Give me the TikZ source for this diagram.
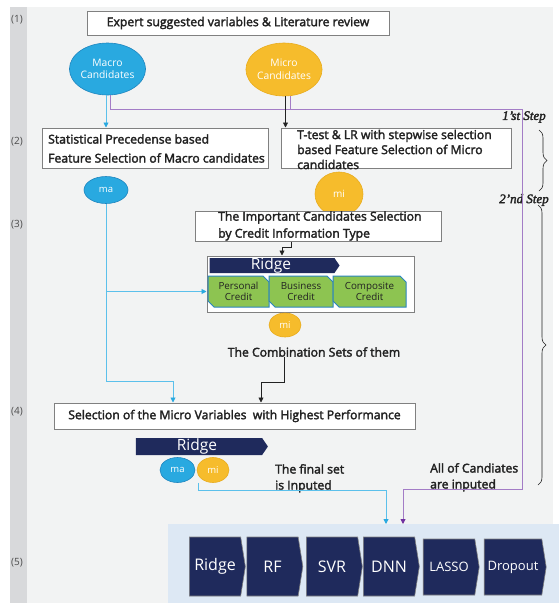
\documentclass[tikz,border=0pt]{standalone}
\usepackage{fontspec}
\setmainfont{Open Sans}
\newfontfamily\bsans{Open Sans}[FakeBold=2.5]
\newfontfamily\stepfont{Liberation Serif}[FakeBold=2.2]
\usetikzlibrary{arrows.meta,shapes.geometric,shapes.symbols,shapes.misc,decorations.pathreplacing,calc}
\definecolor{bggray}{HTML}{F2F3F3}
\definecolor{stripgray}{HTML}{D8D9DB}
\definecolor{panelblue}{HTML}{DDE8F4}
\definecolor{boxborder}{HTML}{808080}
\definecolor{macroblue}{HTML}{29A9E0}
\definecolor{macroborder}{HTML}{1F86BF}
\definecolor{microyellow}{HTML}{F6BC2C}
\definecolor{microborder}{HTML}{E9AC1E}
\definecolor{navy}{HTML}{1F2A5C}
\definecolor{cgreen}{HTML}{8DC451}
\definecolor{cgreenborder}{HTML}{2A84C0}
\definecolor{lblue}{HTML}{5BC0EB}
\definecolor{ablue}{HTML}{29A9E0}
\definecolor{lpurple}{HTML}{A37CC6}
\definecolor{apurple}{HTML}{7030A0}
\definecolor{txt}{HTML}{222222}
\begin{document}
\begin{tikzpicture}[x=1pt,y=-1pt,
  wbox/.style={draw=boxborder,fill=white,line width=1pt,inner sep=0pt},
  btext/.style={font=\bsans\fontsize{12.2}{14}\selectfont,text=txt,inner sep=0pt},
  ell/.style={ellipse,inner sep=0pt,line width=0.6pt,text=white,align=center},
  macroell/.style={ell,fill=macroblue,draw=macroborder},
  microell/.style={ell,fill=microyellow,draw=microborder},
  greenbox/.style={chamfered rectangle,chamfered rectangle corners={north east,south west},
    chamfered rectangle xsep=3pt,chamfered rectangle ysep=3pt,fill=cgreen,draw=cgreenborder,
    line width=1pt,inner sep=0pt,align=center,text=txt,font=\fontsize{9.8}{11.5}\selectfont},
  ridgebar/.style={signal,signal to=east,signal from=nowhere,signal pointer angle=112,
    fill=navy,inner sep=0pt},
  ridgetext/.style={text=white,inner sep=0pt,font=\fontsize{15.5}{16}\selectfont},
  model/.style={signal,signal to=east,signal from=nowhere,signal pointer angle=162,
    fill=navy,draw=boxborder,line width=0.6pt,inner sep=0pt,text=white,
    minimum width=56pt,minimum height=59pt},
  bigm/.style={font=\fontsize{16}{18}\selectfont},
  smallm/.style={font=\fontsize{13}{15}\selectfont},
  bluearr/.style={draw=lblue,line width=0.9pt,-{Triangle[length=5pt,width=5pt,color=ablue]}},
  purplearr/.style={draw=lpurple,line width=0.9pt,-{Triangle[length=5pt,width=5pt,color=apurple]}},
  purpleline/.style={draw=lpurple,line width=0.9pt},
  blackarr/.style={draw=txt,line width=0.8pt,-{Triangle[length=5pt,width=5pt]}},
  steplbl/.style={font=\stepfont\itshape\fontsize{13}{14}\selectfont,text=txt,inner sep=0pt},
  rowlbl/.style={font=\fontsize{10}{12}\selectfont,text=black!70,inner sep=0pt},
  bracestyle/.style={decorate,decoration={brace,amplitude=8pt},draw=txt,line width=0.6pt}
]
\useasboundingbox (0,0) rectangle (559,603);
% backgrounds
\fill[stripgray] (10,7) rectangle (27,603);
\fill[bggray] (27,7) rectangle (553,603);
\node[fill=panelblue,minimum width=391pt,minimum height=79pt,inner sep=0pt,anchor=north west] (panel) at (168,524) {};

% row labels
\node[rowlbl] (r1) at (17,20) {(1)};
\node[rowlbl] (r2) at (17,142) {(2)};
\node[rowlbl] (r3) at (17,225) {(3)};
\node[rowlbl] (r4) at (17,412) {(4)};
\node[rowlbl] (r5) at (17,563) {(5)};

% step (1)
\node[wbox,minimum width=302pt,minimum height=24pt] (b1) at (238,23) {};
\node[btext] (t1) at (238,23) {Expert suggested variables \& Literature review};
\node[macroell,minimum width=70pt,minimum height=52pt,font=\fontsize{10.3}{12.5}\selectfont] (macro) at (107.5,69) {Macro\\Candidates};
\node[microell,minimum width=70pt,minimum height=53pt,font=\fontsize{10.3}{12.5}\selectfont] (micro) at (284,69.5) {Micro\\Candidates};

% step (2)
\node[wbox,minimum width=226pt,minimum height=40pt] (b2a) at (155,148) {};
\node[btext,anchor=west,align=left,font=\bsans\fontsize{12.2}{19}\selectfont] (t2a) at (48,148.5) {Statistical Precedense based\\Feature Selection of Macro candidates};
\node[wbox,minimum width=230pt,minimum height=40pt] (b2b) at (396,148) {};
\node[btext,anchor=west,align=left,font=\bsans\fontsize{12.2}{15}\selectfont] (t2b) at (297,149.5) {T-test \& LR with stepwise selection\\based Feature Selection of Micro\\candidates};
\node[macroell,minimum width=44pt,minimum height=27pt,font=\fontsize{9.5}{11}\selectfont] (ma) at (106,190) {ma};
\node[microell,minimum width=48pt,minimum height=44pt,font=\fontsize{10}{11}\selectfont] (mi) at (339,194) {mi};

% steps labels and braces
\node[steplbl] (s1) at (524,117) {1’st Step};
\node[steplbl] (s2) at (524,200) {2’nd Step};
\draw[bracestyle] (539,130) -- (539,191);
\draw[bracestyle] (538,205) -- (538,485);

% step (3)
\node[wbox,minimum width=246pt,minimum height=30pt] (b3) at (318,226) {};
\node[btext,anchor=west,align=left,font=\bsans\fontsize{12.2}{17}\selectfont] (t3) at (218,226) {The Important Candidates Selection\\by Credit Information Type};
\node[wbox,minimum width=207pt,minimum height=56pt] (cont) at (310.5,284) {};
\node[ridgebar,minimum width=130pt,minimum height=15pt] (ridge1) at (272,265.5) {};
\node[ridgetext] (rt1) at (271,265) {Ridge};
\node[greenbox,minimum width=61pt,minimum height=31pt] (pcred) at (238.5,291.5) {Personal\\Credit};
\node[greenbox,minimum width=64pt,minimum height=31pt] (bcred) at (301,291.5) {Business\\Credit};
\node[greenbox,minimum width=73pt,minimum height=31pt] (ccred) at (369.5,291.5) {Composite\\Credit};
\node[microell,minimum width=32pt,minimum height=24pt,font=\fontsize{9.5}{11}\selectfont] (mi1) at (285,325) {mi};
\node[btext] (comb) at (314,352) {The Combination Sets of them};

% step (4)
\node[wbox,minimum width=361pt,minimum height=26pt] (b4) at (234.5,416) {};
\node[btext] (t4) at (234.5,416) {Selection of the Micro Variables\ \ with Highest Performance};
\node[ridgebar,minimum width=132pt,minimum height=17pt] (ridge2) at (199,446.5) {};
\node[ridgetext] (rt2) at (197,446) {Ridge};
\node[macroell,minimum width=35pt,minimum height=25pt,font=\fontsize{9.5}{11}\selectfont] (ma2) at (177.5,470) {ma};
\node[microell,minimum width=32pt,minimum height=25pt,font=\fontsize{9.5}{11}\selectfont] (mi2) at (213,470) {mi};
\node[btext,anchor=north west,align=left,font=\bsans\fontsize{12.2}{16}\selectfont] (fs) at (275,464) {The final set\\is Inputed};
\node[btext,anchor=north west,align=left,font=\bsans\fontsize{12.2}{16}\selectfont] (allc) at (430,463) {All of Candiates\\are inputed};

% step (5) models
\node[model,bigm] (m1) at (215,566.5) {Ridge};
\node[model,bigm] (m2) at (272.5,566.5) {RF};
\node[model,bigm] (m3) at (332,566.5) {SVR};
\node[model,bigm] (m4) at (389,566.5) {DNN};
\node[model,smallm,minimum height=56pt] (m5) at (449,567) {LASSO};
\node[model,smallm,minimum width=62pt,minimum height=56pt] (m6) at (513,567) {Dropout};

% coordinates for connectors
\coordinate (pc1) at (522,109);
\coordinate (pc3) at (403,489);
\coordinate (jb) at (173,381);
\coordinate (k1) at (282,247);
\coordinate (k2) at (261,382);
\coordinate (k3) at (386,490);

% connectors
\draw[purpleline] ([xshift=6pt]micro.south) -- ([xshift=6pt]micro.south |- pc1);
\draw[purplearr] ([xshift=2.5pt]macro.south) |- (pc1) |- (pc3) -- (pc3 |- panel.north);
\draw[bluearr] ([xshift=-1.5pt]macro.south) -- ([xshift=-1.5pt]macro.south |- b2a.north);
\draw[blackarr] ([xshift=1.5pt]micro.south) -- ([xshift=1.5pt]micro.south |- b2b.north);
\draw[bluearr] (ma.south) |- (cont.west |- pcred.west);
\draw[bluearr] (ma.south) |- (jb) -- (jb |- b4.north);
\draw[blackarr] ([xshift=-27pt]b3.south) |- (k1) -- (k1 |- cont.north);
\draw[blackarr] ([xshift=-30pt]comb.south) |- (k2) -- (k2 |- b4.north);
\draw[bluearr] ([xshift=-15pt]mi2.south) |- (k3) -- (k3 |- panel.north);
\end{tikzpicture}
\end{document}
